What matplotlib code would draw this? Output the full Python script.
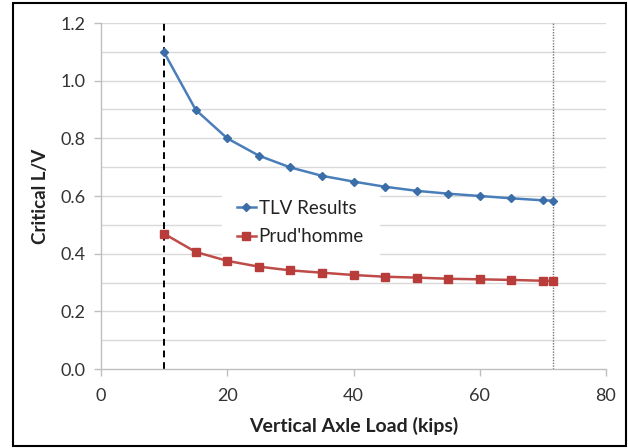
import matplotlib
matplotlib.use("Agg")
import matplotlib.pyplot as plt
from matplotlib.patches import Rectangle

plt.rcParams['font.family'] = ['Lato', 'DejaVu Sans']

load = [10, 15, 20, 25, 30, 35, 40, 45, 50, 55, 60, 65, 70, 71.6]
tlv = [1.098, 0.899, 0.800, 0.740, 0.699, 0.670, 0.650, 0.632, 0.618, 0.608, 0.600, 0.592, 0.585, 0.584]
prud = [0.469, 0.406, 0.375, 0.355, 0.342, 0.334, 0.326, 0.320, 0.317, 0.313, 0.311, 0.309, 0.306, 0.305]
x_lines = [10, 71.6]
xticks = [0, 20, 40, 60, 80]
yticks = [0.0, 0.2, 0.4, 0.6, 0.8, 1.0, 1.2]

W, H = 628, 448
fig = plt.figure(figsize=(W/100, H/100), dpi=100)
ax = fig.add_axes([101/W, 1-369/H, (606-101)/W, (369-23)/H])

grid_c = '#d9d9d9'
for y in [i/10 for i in range(1, 13)]:
    ax.axhline(y, color=grid_c, lw=1, zorder=0)

ax.plot([x_lines[0]]*2, [0, 1.2], color='black', lw=1.4, ls=(0, (3.5, 2.5)), zorder=1)
ax.plot([x_lines[1]]*2, [0, 1.2], color='#777777', lw=1.0, ls=(0, (1, 1)), zorder=1)

ax.plot(load, tlv, color='#4a7ebb', lw=1.8, marker='D', ms=4, mfc='#3b6ea8', mec='#3b6ea8', label='TLV Results', zorder=3)
ax.plot(load, prud, color='#be4b48', lw=1.8, marker='s', ms=5.5, mfc='#b83c3a', mec='#b83c3a', label="Prud'homme", zorder=3)

ax.set_xlim(0, 80)
ax.set_ylim(0, 1.2)
ax.set_xticks(xticks)
ax.set_yticks(yticks)
ax.set_xticklabels([str(v) for v in xticks])
ax.set_yticklabels([f'{v:.1f}' for v in yticks])
for s in ['top', 'right']:
    ax.spines[s].set_visible(False)
for s in ['left', 'bottom']:
    ax.spines[s].set_color('#bfbfbf')
    ax.spines[s].set_linewidth(1)
ax.tick_params(axis='both', colors='#bfbfbf', labelcolor='#333333', labelsize=13, length=5, width=1)
ax.tick_params(axis='x', pad=9)
ax.tick_params(axis='y', pad=6)

ax.set_xlabel('Vertical Axle Load (kips)', fontsize=14, fontweight='bold', color='#222222', labelpad=9)
ax.set_ylabel('Critical L/V', fontsize=13.5, fontweight='bold', color='#222222', labelpad=8)

leg = ax.legend(loc='center left', bbox_to_anchor=((222-101)/(606-101), (369-222.5)/(369-23)),
                frameon=True, fancybox=False, edgecolor='white', facecolor='white', framealpha=1,
                fontsize=13.5, handlelength=1.0, handletextpad=0.15, labelspacing=0.6,
                borderpad=0.8, borderaxespad=0)
leg.set_zorder(2)
for t in leg.get_texts():
    t.set_color('#222222')

fig.patches.append(Rectangle((13/W, 2/H), (626-13)/W, (443)/H, transform=fig.transFigure,
                             fill=False, edgecolor='black', lw=1.5))

fig.savefig('out.png', dpi=100)
